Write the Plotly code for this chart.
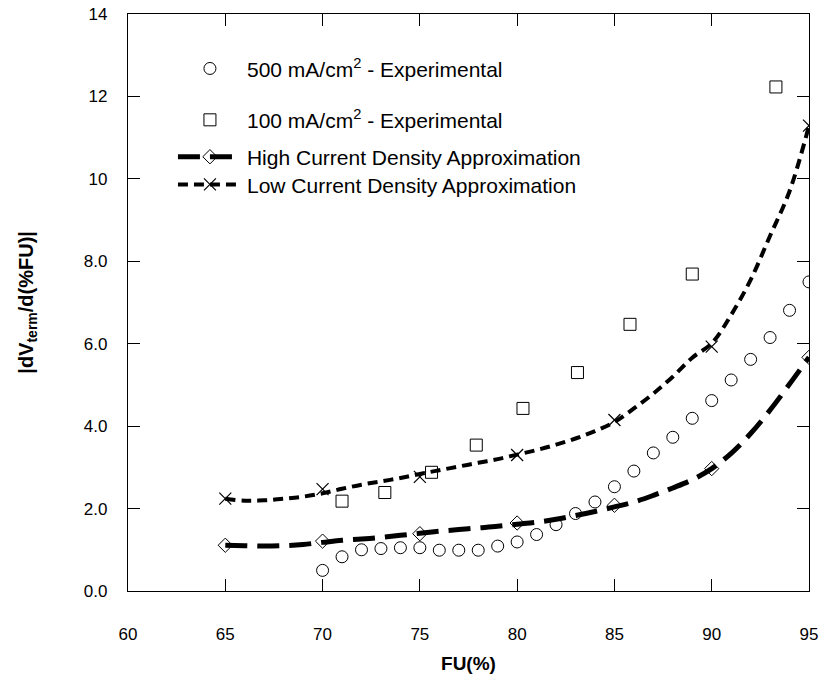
import plotly.graph_objects as go

# 500 mA/cm2 experimental (circles)
fu_500 = [70, 71, 72, 73, 74, 75, 76, 77, 78, 79, 80, 81, 82, 83, 84, 85, 86, 87, 88, 89, 90, 91, 92, 93, 94, 95]
dv_500 = [0.50, 0.83, 1.00, 1.03, 1.05, 1.05, 0.99, 0.99, 0.99, 1.09, 1.19, 1.37, 1.61, 1.88, 2.16,
          2.53, 2.91, 3.35, 3.73, 4.19, 4.62, 5.12, 5.62, 6.15, 6.81, 7.50]

# 100 mA/cm2 experimental (squares)
fu_100 = [71.0, 73.2, 75.6, 77.9, 80.3, 83.1, 85.8, 89.0, 93.3]
dv_100 = [2.18, 2.39, 2.88, 3.54, 4.43, 5.30, 6.47, 7.69, 12.23]

# High current density approximation: curve and markers
fu_hi_curve = [65, 66, 67, 68, 69, 70, 71, 72, 73, 74, 75, 76, 77, 78, 79, 80, 81, 82, 83, 84, 85, 86, 87, 88, 89, 90, 91, 92, 93, 94, 95]
dv_hi_curve = [1.11, 1.10, 1.09, 1.10, 1.13, 1.18, 1.23, 1.26, 1.30, 1.35, 1.40, 1.45, 1.49, 1.53, 1.57, 1.62, 1.67, 1.74, 1.83, 1.93, 2.04, 2.16, 2.32, 2.50, 2.70, 2.97, 3.34, 3.82, 4.39, 5.02, 5.67]
fu_hi_mark = [65, 70, 75, 80, 85, 90, 95]
dv_hi_mark = [1.11, 1.21, 1.39, 1.65, 2.08, 2.97, 5.67]

# Low current density approximation: curve and markers
fu_lo_curve = [65, 66, 67, 68, 69, 70, 71, 72, 73, 74, 75, 76, 77, 78, 79, 80, 81, 82, 83, 84, 85, 86, 87, 88, 89, 90, 91, 92, 93, 94, 95]
dv_lo_curve = [2.24, 2.19, 2.20, 2.24, 2.29, 2.37, 2.48, 2.58, 2.66, 2.74, 2.84, 2.93, 3.02, 3.11, 3.20, 3.31, 3.42, 3.55, 3.70, 3.88, 4.10, 4.43, 4.79, 5.20, 5.66, 6.01, 6.70, 7.55, 8.62, 9.70, 11.29]
fu_lo_mark = [65, 70, 75, 80, 85, 90, 95]
dv_lo_mark = [2.24, 2.47, 2.77, 3.30, 4.15, 5.93, 11.29]

x_ticks = [60, 65, 70, 75, 80, 85, 90, 95]
y_ticks = [0, 2, 4, 6, 8, 10, 12, 14]
y_ticktext = ["0.0", "2.0", "4.0", "6.0", "8.0", "10", "12", "14"]

names = ["500 mA/cm<sup>2</sup> - Experimental",
         "100 mA/cm<sup>2</sup> - Experimental",
         "High Current Density Approximation",
         "Low Current Density Approximation"]

FONT = "Liberation Sans, Arial, sans-serif"
HI_LINE = dict(color="black", width=5, dash="22px,10px")
LO_LINE = dict(color="black", width=4, dash="10px,6px")
HI_MARK = dict(symbol="diamond-open", size=11, color="black", line=dict(width=1, color="black"))
LO_MARK = dict(symbol="x-thin-open", size=12, color="black", line=dict(width=1.2, color="black"))

fig = go.Figure()

fig.add_trace(go.Scatter(
    x=fu_500, y=dv_500, mode="markers", name=names[0], legend="legend",
    marker=dict(symbol="circle-open", size=12, color="black", line=dict(width=1, color="black"))))
fig.add_trace(go.Scatter(
    x=fu_100, y=dv_100, mode="markers", name=names[1], legend="legend2",
    marker=dict(symbol="square-open", size=12, color="black", line=dict(width=1, color="black"))))

# curves
fig.add_trace(go.Scatter(
    x=fu_hi_curve, y=dv_hi_curve, mode="lines", showlegend=False,
    line=dict(HI_LINE, shape="spline")))
fig.add_trace(go.Scatter(
    x=fu_hi_mark, y=dv_hi_mark, mode="markers", showlegend=False, marker=HI_MARK))
fig.add_trace(go.Scatter(
    x=fu_lo_curve, y=dv_lo_curve, mode="lines", showlegend=False,
    line=dict(LO_LINE, shape="spline")))
fig.add_trace(go.Scatter(
    x=fu_lo_mark, y=dv_lo_mark, mode="markers", showlegend=False, marker=LO_MARK))

# legend-only entries for the approximations (line + marker)
fig.add_trace(go.Scatter(
    x=[None], y=[None], mode="lines+markers", name=names[2], legend="legend3",
    line=HI_LINE, marker=HI_MARK))
fig.add_trace(go.Scatter(
    x=[None], y=[None], mode="lines+markers", name=names[3], legend="legend4",
    line=LO_LINE, marker=LO_MARK))

axis_common = dict(
    showline=True, linecolor="black", linewidth=1.2, mirror="ticks",
    ticks="inside", ticklen=12, tickwidth=1, tickcolor="black",
    showgrid=False, zeroline=False, automargin=False,
    tickfont=dict(family=FONT, size=17, color="black"),
)

fig.update_xaxes(range=[60, 95], tickvals=x_ticks, ticklabelstandoff=27,
                 title=dict(text="<b>FU(%)</b>", font=dict(family=FONT, size=19, color="black"), standoff=14),
                 **axis_common)
fig.update_yaxes(range=[0, 14], tickvals=y_ticks, ticktext=y_ticktext, ticklabelstandoff=16,
                 **axis_common)

fig.add_annotation(
    text="<b>|dV<sub>term</sub>/d(%FU)|</b>", textangle=-90,
    xref="paper", yref="paper", x=-0.148, y=0.5, xanchor="center", yanchor="middle",
    showarrow=False,
    font=dict(family=FONT, size=20, color="black"))

leg_common = dict(xanchor="left", yanchor="middle", bgcolor="rgba(0,0,0,0)",
                  font=dict(family=FONT, size=21, color="black"), itemwidth=64)
LEG_X = 0.066
fig.update_layout(
    width=822, height=686,
    margin=dict(l=128, r=13, t=14, b=95),
    paper_bgcolor="white", plot_bgcolor="white",
    font=dict(family=FONT, size=17, color="black"),
    legend=dict(leg_common, x=LEG_X, y=0.905),
    legend2=dict(leg_common, x=LEG_X, y=0.816),
    legend3=dict(leg_common, x=LEG_X, y=0.752),
    legend4=dict(leg_common, x=LEG_X, y=0.704),
)

fig.write_html("out.html")
